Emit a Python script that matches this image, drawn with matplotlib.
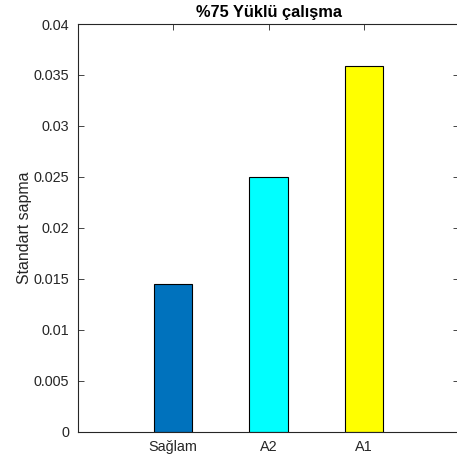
import matplotlib
matplotlib.use("Agg")
import matplotlib.pyplot as plt

categories = ["Sağlam", "A2", "A1"]
values = [0.0145, 0.0250, 0.0359]
colors = ["#0072BD", "#00FFFF", "#FFFF00"]
yticks = [0, 0.005, 0.01, 0.015, 0.02, 0.025, 0.03, 0.035, 0.04]
ytick_labels = ["0", "0.005", "0.01", "0.015", "0.02", "0.025", "0.03", "0.035", "0.04"]

plt.rcParams["font.family"] = ["Liberation Sans", "DejaVu Sans"]

W, H = 457, 466
fig = plt.figure(figsize=(W / 100, H / 100), dpi=100)
left, right, top, bottom = 77.5, 459.5, 24.0, 431.5
ax = fig.add_axes([left / W, 1 - bottom / H, (right - left) / W, (bottom - top) / H])

x = list(range(1, len(categories) + 1))
ax.bar(x, values, width=0.4, color=colors, edgecolor="black", linewidth=0.8, zorder=2)

ax.set_xlim(0, 4)
ax.set_ylim(0, 0.04)
ax.set_xticks(x)
ax.set_xticklabels(categories)
ax.set_yticks(yticks)
ax.set_yticklabels(ytick_labels)

ax.tick_params(direction="in", top=True, right=True, length=4, width=0.6,
               colors="#262626", labelsize=10.4, pad=6)
for s in ax.spines.values():
    s.set_color("#262626")
    s.set_linewidth(0.8)

ax.set_ylabel("Standart sapma", fontsize=11.4, color="#262626", labelpad=1)
ax.set_title("%75 Yüklü çalışma", fontsize=11.8, fontweight="bold", color="black", pad=5)

fig.savefig("out.png", dpi=100)
